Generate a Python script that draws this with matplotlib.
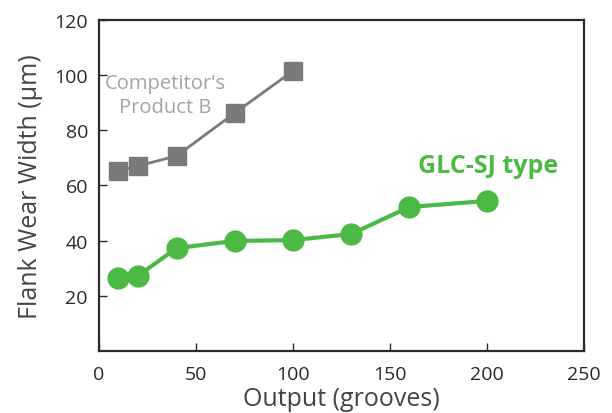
import matplotlib
matplotlib.use("Agg")
import matplotlib.pyplot as plt

plt.rcParams["font.family"] = ["Open Sans", "DejaVu Sans"]

# ── Data ──────────────────────────────────────────────────────────────────────
comp_x = [10, 20, 40, 70, 100]
comp_y = [65.3, 67.1, 70.7, 86.3, 101.5]

glc_x = [10, 20, 40, 70, 100, 130, 160, 200]
glc_y = [26.5, 27.2, 37.3, 39.9, 40.2, 42.4, 52.2, 54.4]

x_ticks = [0, 50, 100, 150, 200, 250]
y_ticks = [20, 40, 60, 80, 100, 120]

GREEN = "#4cb944"
GRAY = "#7a7a7c"
LABEL_GRAY = "#a3a3a3"
DARK = "#2a2a2a"

fig = plt.figure(figsize=(6.12, 4.14), dpi=100)
ax = fig.add_axes([0.1618, 0.1498, 0.7922, 0.7995])

ax.plot(comp_x, comp_y, color=GRAY, lw=2, marker="s", ms=13, zorder=3)
ax.plot(glc_x, glc_y, color=GREEN, lw=3, marker="o", ms=15, zorder=3)

ax.text(34, 97.2, "Competitor's", color=LABEL_GRAY, fontsize=14.5, ha="center", va="center")
ax.text(34, 88.5, "Product B", color=LABEL_GRAY, fontsize=14.5, ha="center", va="center")
ax.text(200.5, 67.4, "GLC-SJ type", color=GREEN, fontsize=18, fontweight="bold",
        ha="center", va="center")

ax.set_xlim(0, 250)
ax.set_ylim(0, 120)
ax.set_xticks(x_ticks)
ax.set_yticks(y_ticks)
ax.tick_params(direction="in", length=6, width=1, colors=DARK, labelsize=14, pad=8)
ax.tick_params(axis="x", pad=10)
for s in ax.spines.values():
    s.set_linewidth(1.6)
    s.set_color(DARK)

ax.set_xlabel("Output (grooves)", fontsize=18, color="#444444", labelpad=2)
ax.set_ylabel("Flank Wear Width (\u03bcm)", fontsize=18, color="#444444", labelpad=8)

fig.savefig("out.png", dpi=100)
